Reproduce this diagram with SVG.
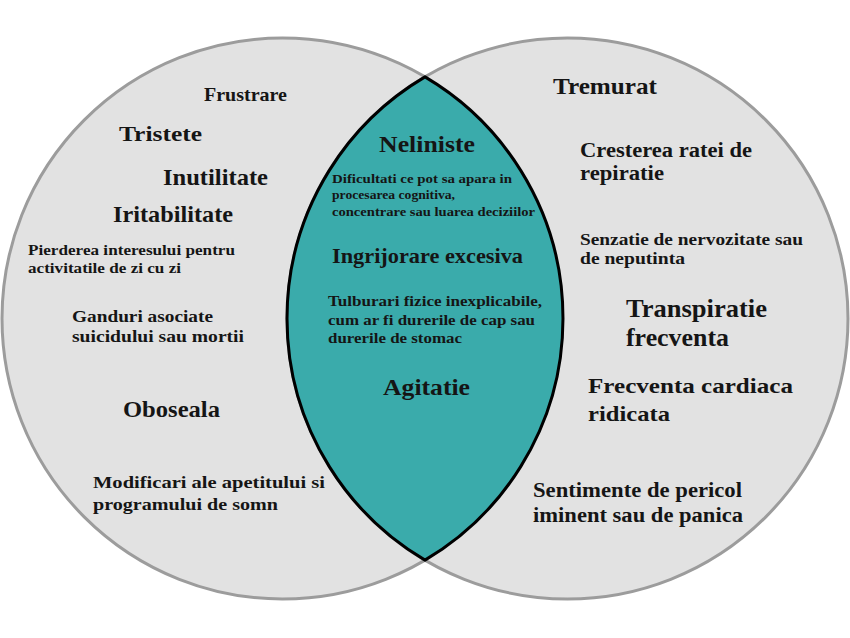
<svg xmlns="http://www.w3.org/2000/svg" width="850" height="638" viewBox="0 0 850 638">
<style>
.circ{fill:#e2e2e2;stroke:#9c9c9c;stroke-width:3}
.lens{fill:#3aabab;stroke:#000;stroke-width:3}
text{font-family:"Liberation Serif","Times New Roman",serif;font-weight:bold;fill:#151515}
</style>
<rect width="850" height="638" fill="#fff"/>
<g id="circle-left"><circle class="circ" cx="282.5" cy="318.5" r="280.5"/></g>
<g id="circle-right"><circle class="circ" cx="567.5" cy="318.5" r="280.5"/></g>
<g id="intersection"><path class="lens" d="M425 76.9 A280.5 280.5 0 0 1 425 560.1 A280.5 280.5 0 0 1 425 76.9 Z"/></g>

<g id="left-items">
<g id="frustrare"><text x="204" y="101" font-size="19" textLength="83" lengthAdjust="spacingAndGlyphs">Frustrare</text></g>
<g id="tristete"><text x="119" y="141" font-size="22" textLength="83" lengthAdjust="spacingAndGlyphs">Tristete</text></g>
<g id="inutilitate"><text x="163" y="185" font-size="23" textLength="105" lengthAdjust="spacingAndGlyphs">Inutilitate</text></g>
<g id="iritabilitate"><text x="113" y="222" font-size="24" textLength="120" lengthAdjust="spacingAndGlyphs">Iritabilitate</text></g>
<g id="pierderea"><text x="28" y="255" font-size="15" textLength="207" lengthAdjust="spacingAndGlyphs">Pierderea interesului pentru</text><text x="28" y="273" font-size="15" textLength="153" lengthAdjust="spacingAndGlyphs">activitatile de zi cu zi</text></g>
<g id="ganduri"><text x="72" y="322" font-size="17" textLength="141" lengthAdjust="spacingAndGlyphs">Ganduri asociate</text><text x="72" y="342" font-size="17" textLength="172" lengthAdjust="spacingAndGlyphs">suicidului sau mortii</text></g>
<g id="oboseala"><text x="123" y="417" font-size="24" textLength="97" lengthAdjust="spacingAndGlyphs">Oboseala</text></g>
<g id="modificari"><text x="93" y="488" font-size="17.5" textLength="232" lengthAdjust="spacingAndGlyphs">Modificari ale apetitului si</text><text x="93" y="510" font-size="17.5" textLength="185" lengthAdjust="spacingAndGlyphs">programului de somn</text></g>
</g>

<g id="middle-items">
<g id="neliniste"><text x="379" y="152" font-size="24" textLength="96" lengthAdjust="spacingAndGlyphs">Neliniste</text></g>
<g id="dificultati"><text x="332" y="183" font-size="12" textLength="180" lengthAdjust="spacingAndGlyphs">Dificultati ce pot sa apara in</text><text x="332" y="199" font-size="12" textLength="123" lengthAdjust="spacingAndGlyphs">procesarea cognitiva,</text><text x="332" y="216" font-size="12" textLength="203" lengthAdjust="spacingAndGlyphs">concentrare sau luarea deciziilor</text></g>
<g id="ingrijorare"><text x="332" y="263" font-size="21" textLength="191" lengthAdjust="spacingAndGlyphs">Ingrijorare excesiva</text></g>
<g id="tulburari"><text x="328" y="306" font-size="15" textLength="214" lengthAdjust="spacingAndGlyphs">Tulburari fizice inexplicabile,</text><text x="328" y="325" font-size="15" textLength="207" lengthAdjust="spacingAndGlyphs">cum ar fi durerile de cap sau</text><text x="328" y="343" font-size="15" textLength="134" lengthAdjust="spacingAndGlyphs">durerile de stomac</text></g>
<g id="agitatie"><text x="383" y="395" font-size="24" textLength="87" lengthAdjust="spacingAndGlyphs">Agitatie</text></g>
</g>

<g id="right-items">
<g id="tremurat"><text x="553" y="94" font-size="24" textLength="104" lengthAdjust="spacingAndGlyphs">Tremurat</text></g>
<g id="cresterea"><text x="580" y="157" font-size="20" textLength="172" lengthAdjust="spacingAndGlyphs">Cresterea ratei de</text><text x="580" y="180" font-size="20" textLength="84" lengthAdjust="spacingAndGlyphs">repiratie</text></g>
<g id="senzatie"><text x="580" y="245" font-size="16.5" textLength="223" lengthAdjust="spacingAndGlyphs">Senzatie de nervozitate sau</text><text x="580" y="264" font-size="16.5" textLength="105" lengthAdjust="spacingAndGlyphs">de neputinta</text></g>
<g id="transpiratie"><text x="626" y="317" font-size="25" textLength="141" lengthAdjust="spacingAndGlyphs">Transpiratie</text><text x="626" y="346" font-size="25" textLength="103" lengthAdjust="spacingAndGlyphs">frecventa</text></g>
<g id="frecventa-cardiaca"><text x="588" y="393" font-size="22" textLength="205" lengthAdjust="spacingAndGlyphs">Frecventa cardiaca</text><text x="588" y="421" font-size="22" textLength="82" lengthAdjust="spacingAndGlyphs">ridicata</text></g>
<g id="sentimente"><text x="533" y="497" font-size="20" textLength="209" lengthAdjust="spacingAndGlyphs">Sentimente de pericol</text><text x="533" y="522" font-size="20" textLength="210" lengthAdjust="spacingAndGlyphs">iminent sau de panica</text></g>
</g>
</svg>
